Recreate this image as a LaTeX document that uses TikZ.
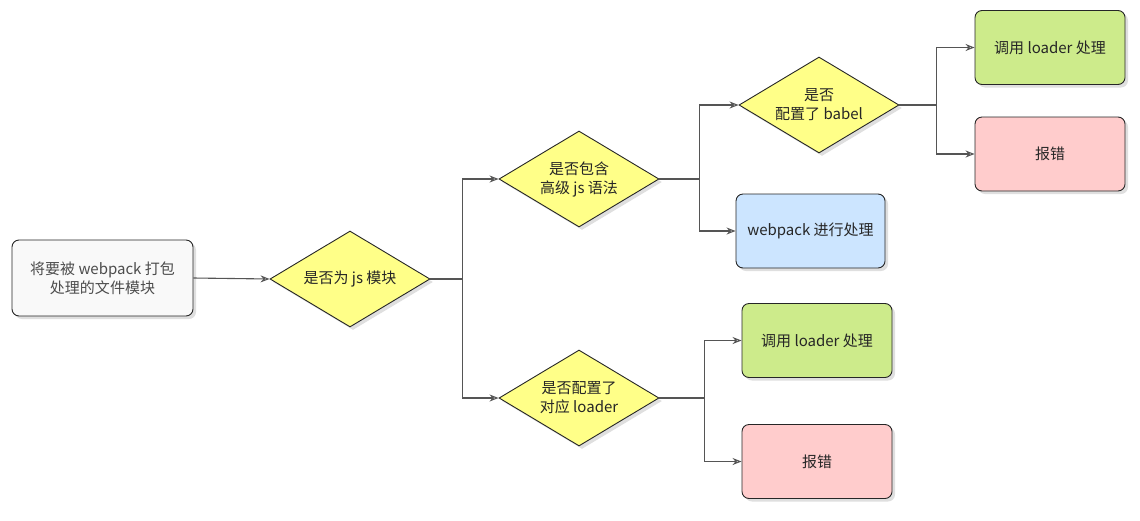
\documentclass[tikz,border=0pt]{standalone}
\usepackage{fontspec}
\setmainfont{Noto Sans CJK SC}
\usetikzlibrary{shapes.geometric,shadows,arrows.meta}
\definecolor{dy}{HTML}{FFFF88}
\definecolor{gb}{HTML}{CDEB8B}
\definecolor{rb}{HTML}{FFCCCC}
\definecolor{bb}{HTML}{CCE5FF}
\definecolor{st}{HTML}{F9F9F9}
\definecolor{ln}{HTML}{555555}
\tikzset{
 base/.style={draw=black!85,line width=0.9pt,align=center,font=\fontsize{15}{19}\selectfont,text=black!85,drop shadow={opacity=0.25,shadow xshift=3pt,shadow yshift=-3pt}},
 boxx/.style={base,rounded corners=7pt,minimum width=150pt,minimum height=74pt},
 dia/.style={base,diamond,fill=dy,aspect=1.66,inner sep=0pt,minimum width=160pt,minimum height=96pt},
 conn/.style={draw=ln,line width=1.1pt,-{Stealth[open,length=9pt,width=7pt]}}
}
\begin{document}
\begin{tikzpicture}[x=1pt,y=-1pt]
\useasboundingbox (0,0) rectangle (1140,520);
\node[boxx,fill=st,minimum width=181pt,minimum height=76pt,text=black!70] (s) at (102.5,278) {将要被 webpack 打包\\处理的文件模块};
\node[dia] (d1) at (350,279) {是否为 js 模块};
\node[dia] (d2) at (579,179) {是否包含\\高级 js 语法};
\node[dia] (d3) at (579,398) {是否配置了\\对应 loader};
\node[dia] (d4) at (819,105) {是否\\配置了 babel};
\node[boxx,fill=bb,minimum width=149pt] (wp) at (810.5,231) {webpack 进行处理};
\node[boxx,fill=gb] (g1) at (1050,47.5) {调用 loader 处理};
\node[boxx,fill=rb] (r1) at (1050,154) {报错};
\node[boxx,fill=gb] (g2) at (817,340.5) {调用 loader 处理};
\node[boxx,fill=rb] (r2) at (817,461.5) {报错};
\draw[conn] (s.east) -- (d1.west);
\draw[conn] (d1.east) -- ++(32,0) |- (d2.west);
\draw[conn] (d1.east) -- ++(32,0) |- (d3.west);
\draw[conn] (d2.east) -- ++(40,0) |- (d4.west);
\draw[conn] (d2.east) -- ++(40,0) |- (wp.west);
\draw[conn] (d3.east) -- ++(45,0) |- (g2.west);
\draw[conn] (d3.east) -- ++(45,0) |- (r2.west);
\draw[conn] (d4.east) -- ++(37,0) |- (g1.west);
\draw[conn] (d4.east) -- ++(37,0) |- (r1.west);
\end{tikzpicture}
\end{document}
